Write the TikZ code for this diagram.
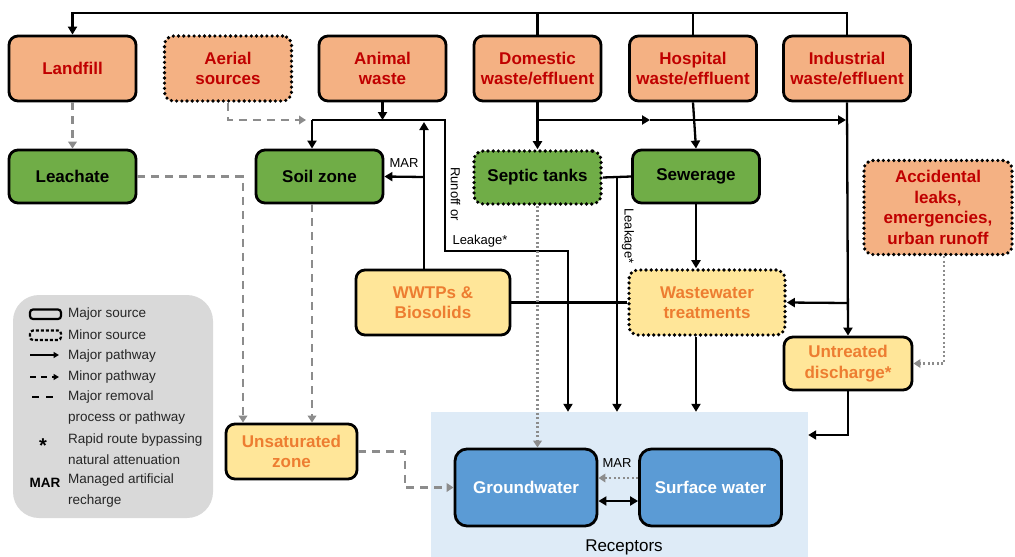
\documentclass[tikz,border=0pt]{standalone}
\usepackage{fontspec}
\setmainfont{Liberation Sans}
\usetikzlibrary{arrows.meta}
\definecolor{srcF}{RGB}{244,177,131}
\definecolor{srcT}{RGB}{192,0,0}
\definecolor{grnF}{RGB}{112,173,71}
\definecolor{ylwF}{RGB}{255,230,153}
\definecolor{ylwT}{RGB}{237,125,49}
\definecolor{bluF}{RGB}{91,155,213}
\definecolor{recF}{RGB}{222,235,247}
\definecolor{legF}{RGB}{217,217,217}
\definecolor{gry}{RGB}{140,140,140}
\begin{document}
\begin{tikzpicture}[x=1pt,y=-1pt,
  box/.style={draw=black, line width=2.8pt, rounded corners=9pt, inner sep=0pt, align=center,
    font=\fontsize{17}{20.5}\selectfont\bfseries, minimum width=127pt, minimum height=65pt},
  minorbox/.style={box, dash pattern=on 0pt off 5.2pt, line cap=round, line width=3.6pt},
  srcbox/.style={fill=srcF, text=srcT},
  grnbox/.style={fill=grnF, text=black, minimum height=53pt},
  ylwbox/.style={fill=ylwF, text=ylwT},
  blubox/.style={fill=bluF, text=white, minimum width=142pt, minimum height=77pt, rounded corners=12pt},
  blk/.style={draw=black, line width=2.3pt},
  arr/.style={blk, -{Triangle[length=8pt,width=9pt]}},
  gdash/.style={draw=gry, line width=2.6pt, dash pattern=on 8pt off 6pt, -{Triangle[length=7pt,width=8.5pt]}},
  gdot/.style={draw=gry, line width=2.6pt, dash pattern=on 2pt off 2.5pt, -{Triangle[length=7pt,width=8.5pt]}},
  lbl/.style={font=\fontsize{13}{15}\selectfont, inner sep=0pt},
  legtxt/.style={font=\fontsize{13.5}{21}\selectfont, inner sep=0pt, anchor=west, align=left, text=black!85}
]
\useasboundingbox (0,0) rectangle (1015,557);
% receptors background
\node[fill=recF, inner sep=0pt, minimum width=377pt, minimum height=145pt] (rec) at (619.5,484.5) {};
\node[font=\fontsize{17}{20}\selectfont, inner sep=0pt, anchor=base] (reclbl) at (624,551.5) {Receptors};
% legend
\node[fill=legF, rounded corners=26pt, minimum width=200pt, minimum height=223pt, inner sep=0pt] (legend) at (113,406.5) {};
\draw[line width=2.2pt, rounded corners=3pt] (30,309.5) rectangle (61,319);
\draw[line width=2.2pt, rounded corners=3pt, dash pattern=on 3pt off 2pt] (30,330.5) rectangle (61,340);
\draw[line width=1.6pt, -{Triangle[length=5.5pt,width=6pt]}] (30,355) -- (59,355);
\draw[line width=1.6pt, dash pattern=on 6pt off 5pt, -{Triangle[length=5.5pt,width=6pt]}] (30,377) -- (59,377);
\draw[line width=1.6pt, dash pattern=on 7pt off 7pt] (32,397) -- (58,397);
\node[font=\fontsize{20}{20}\bfseries, inner sep=0pt] (star) at (43,446) {*};
\node[font=\fontsize{13.5}{15}\selectfont\bfseries, inner sep=0pt] (marl) at (45,483) {MAR};
\node[legtxt] (l1) at (68,314) {Major source};
\node[legtxt] (l2) at (68,335) {Minor source};
\node[legtxt] (l3) at (68,356) {Major pathway};
\node[legtxt] (l4) at (68,377) {Minor pathway};
\node[legtxt] (l5) at (68,407.5) {Major removal\\process or pathway};
\node[legtxt] (l6) at (68,449.5) {Rapid route bypassing\\natural attenuation};
\node[legtxt] (l7) at (68,490.5) {Managed artificial\\recharge};
% source row
\node[box, srcbox] (landfill) at (72.5,68.5) {Landfill};
\node[minorbox, srcbox] (aerial) at (228,68.5) {Aerial\\sources};
\node[box, srcbox] (animal) at (382.5,68.5) {Animal\\waste};
\node[box, srcbox] (domestic) at (537.5,68.5) {Domestic\\waste/effluent};
\node[box, srcbox] (hospital) at (693,68.5) {Hospital\\waste/effluent};
\node[box, srcbox] (industrial) at (847,68.5) {Industrial\\waste/effluent};
% second row
\node[box, grnbox] (leachate) at (72.5,176.5) {Leachate};
\node[box, grnbox] (soil) at (319.5,176.5) {Soil zone};
\node[minorbox, grnbox] (septic) at (537.5,177.5) {Septic tanks};
\node[box, grnbox] (sewer) at (696,176.5) {Sewerage};
\node[minorbox, srcbox, minimum width=148pt, minimum height=94pt] (accident) at (938,207.5) {Accidental\\leaks,\\emergencies,\\urban runoff};
% third row
\node[box, ylwbox, minimum width=154pt] (wwtp) at (433,302.5) {WWTPs \&\\Biosolids};
\node[minorbox, ylwbox, minimum width=156pt] (wwt) at (707,302.5) {Wastewater\\treatments};
\node[box, ylwbox, minimum width=128pt, minimum height=53pt] (untreated) at (848,363.5) {Untreated\\discharge*};
\node[box, ylwbox, minimum width=131pt, minimum height=55pt] (unsat) at (291.5,451.5) {Unsaturated\\zone};
% receptors
\node[box, blubox] (gw) at (526,487.5) {Groundwater};
\node[box, blubox] (sw) at (710.5,487.5) {Surface water};
% helper coordinates
\coordinate (top) at (0,13);
\coordinate (jrow) at (0,120);
\coordinate (jleft) at (312,120);
\coordinate (jright) at (445,120);
\coordinate (rbend1) at (445,251);
\coordinate (rbend2) at (568,251);
\coordinate (aerend) at (306,120);
\coordinate (marup) at (424,122);
\coordinate (marjn) at (424,177);
\coordinate (dmid) at (650,120);
\coordinate (dend) at (846,120);
\coordinate (leakjn) at (617,177.5);
\coordinate (indjn) at (847,303);
\coordinate (undis) at (0,435);
\coordinate (ubend1) at (405,451.5);
\coordinate (ubend2) at (405,487.5);
% top return line to landfill
\draw[arr] (industrial.north) -- (industrial.north |- top) -| (landfill.north);
\draw[blk] (domestic.north) -- (domestic.north |- top);
\draw[blk] (hospital.north) -- (hospital.north |- top);
% landfill / leachate
\draw[gdash] (landfill.south) -- (leachate.north);
\draw[gdash] (leachate.east) -| ([xshift=-48.5pt]unsat.north);
% aerial
\draw[gdash] (aerial.south) |- (aerend);
% animal waste
\draw[arr] (animal.south) -- (animal.south |- jrow);
\draw[arr] (jleft) -- ([xshift=-7.5pt]soil.north);
\draw[arr] (jleft) -- (jright) -- (rbend1) -- (rbend2) -- (rbend2 |- rec.north);
\node[lbl, rotate=-90] (runoff) at (455.5,194) {Runoff or};
\node[lbl] (leak1) at (480,241) {Leakage*};
% WWTPs MAR
\draw[arr] ([xshift=-9pt]wwtp.north) -- (marup);
\draw[arr] (marjn) -- (soil.east);
\node[lbl] (mar1) at (404,163) {MAR};
\draw[blk] (wwtp.east) -- (wwt.west);
% soil to unsaturated
\draw[gdash] ([xshift=-7.5pt]soil.south) -- ([xshift=20.5pt]unsat.north);
\draw[gdash] (unsat.east) -- (ubend1) -- (ubend2) -- (gw.west);
% domestic
\draw[arr] (domestic.south) -- (septic.north);
\draw[arr] (domestic.south |- jrow) -- (dmid);
\draw[arr] (dmid) -- (dend);
\draw[gdot] (septic.south) -- (septic.south |- gw.north);
\draw[blk] (septic.east) -- (sewer.west);
\draw[arr] (leakjn) -- (leakjn |- rec.north);
\node[lbl, rotate=-90] (leak2) at (628,236) {Leakage*};
% hospital / sewerage
\draw[arr] (hospital.south) -- (sewer.north);
\draw[arr] (sewer.south) -- ([xshift=-11pt]wwt.north);
\draw[arr] ([xshift=-11pt]wwt.south) -- ([xshift=-11pt]wwt.south |- rec.north);
% industrial
\draw[arr] (industrial.south) -- (untreated.north);
\draw[arr] (indjn) -- (wwt.east);
\draw[gdot] ([xshift=6pt]accident.south) |- (untreated.east);
\draw[arr] (untreated.south) |- (rec.east |- undis);
% receptors interactions
\draw[gdot] ([yshift=9.5pt]sw.west) -- ([yshift=9.5pt]gw.east);
\node[lbl] (mar2) at (617,463) {MAR};
\draw[blk, {Triangle[length=8pt,width=9pt]}-{Triangle[length=8pt,width=9pt]}] ([yshift=-13.5pt]gw.east) -- ([yshift=-13.5pt]sw.west);
\end{tikzpicture}
\end{document}
